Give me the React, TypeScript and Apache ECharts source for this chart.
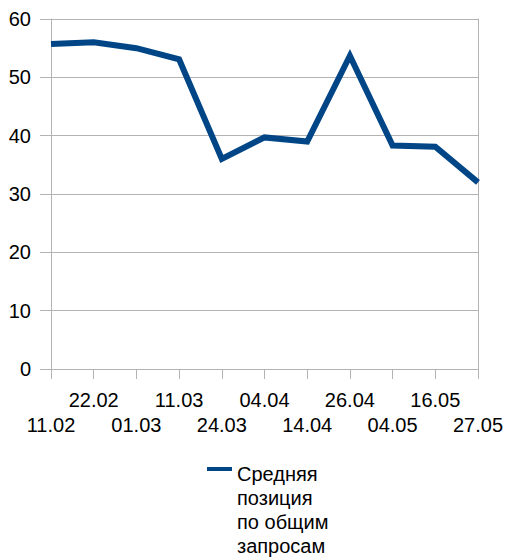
import React, { useEffect, useRef } from "react";
import * as echarts from "echarts";

const categories = ["11.02", "22.02", "01.03", "11.03", "24.03", "04.04", "14.04", "26.04", "04.05", "16.05", "27.05"];
const seriesName = "Средняя\nпозиция\nпо общим\nзапросам";
const values = [55.7, 56.0, 55.0, 53.1, 36.0, 39.7, 39.0, 53.7, 38.3, 38.1, 32.0];
const yMin = 0;
const yMax = 60;
const yInterval = 10;

export default function App() {
  const ref = useRef<HTMLDivElement>(null);
  useEffect(() => {
    if (!ref.current) return;
    const chart = echarts.init(ref.current, null, { renderer: "svg" });
    const font = "'Liberation Sans', Arial, sans-serif";
    const grey = "#b3b3b3";
    chart.setOption({
      animation: false,
      textStyle: { fontFamily: font },
      grid: { left: 51, right: 30, top: 19, bottom: 190, containLabel: false },
      xAxis: {
        type: "category",
        data: categories,
        boundaryGap: false,
        axisLine: { show: true, lineStyle: { color: grey, width: 1 } },
        axisTick: { show: true, length: 10, alignWithLabel: true, lineStyle: { color: grey } },
        splitLine: { show: false },
        axisLabel: {
          interval: 0,
          margin: 18,
          color: "#000",
          fontSize: 20,
          fontFamily: font,
          lineHeight: 25,
          verticalAlign: "top",
          formatter: (v: string, i: number) => (i % 2 === 0 ? "\n" + v : v + "\n"),
        },
      },
      yAxis: [
        {
          type: "value",
          min: yMin,
          max: yMax,
          interval: yInterval,
          axisLine: { show: true, lineStyle: { color: grey, width: 1 } },
          axisTick: { show: true, length: 11, lineStyle: { color: grey } },
          splitLine: { show: true, lineStyle: { color: grey, width: 1 } },
          axisLabel: { margin: 20, color: "#000", fontSize: 20, fontFamily: font },
        },
        {
          type: "value",
          position: "right",
          min: yMin,
          max: yMax,
          interval: yInterval,
          axisLine: { show: true, lineStyle: { color: grey, width: 1 } },
          axisTick: { show: false },
          splitLine: { show: false },
          axisLabel: { show: false },
        },
      ],
      legend: {
        show: true,
        left: 207,
        top: 462,
        orient: "vertical",
        icon: "path://M0,5L25,5L25,9L0,9Z M0,0L0,0 M25,96L25,96",
        itemWidth: 25,
        itemHeight: 96,
        itemGap: 0,
        padding: 0,
        itemStyle: { borderWidth: 0 },
        textStyle: { color: "#000", fontSize: 20, fontFamily: font, lineHeight: 24 },
        data: [seriesName],
      },
      series: [
        {
          name: seriesName,
          type: "line",
          data: values,
          symbol: "none",
          smooth: false,
          lineStyle: { color: "#004586", width: 6, join: "miter" },
          itemStyle: { color: "#004586" },
        },
      ],
    });
    return () => chart.dispose();
  }, []);
  return <div ref={ref} style={{ width: 508, height: 559, position: "absolute", left: 0, top: 0 }} />;
}
